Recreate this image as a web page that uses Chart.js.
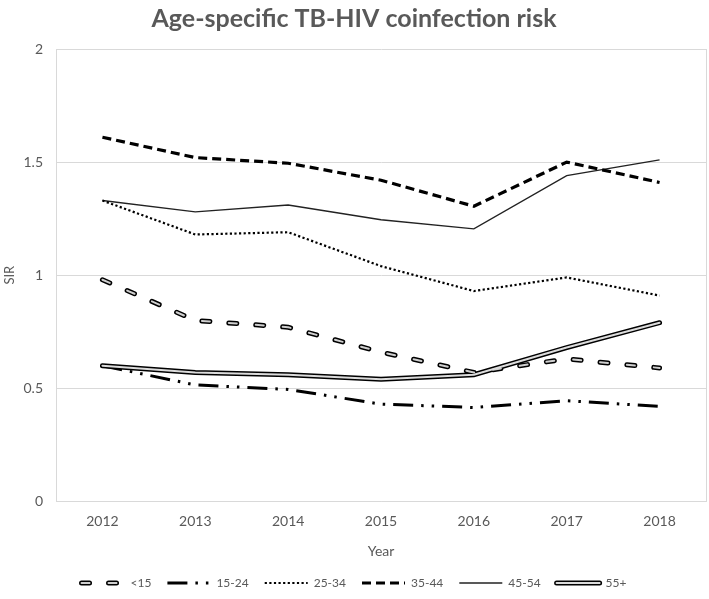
<!DOCTYPE html>
<html>
<head>
<meta charset="utf-8">
<script src="https://cdn.jsdelivr.net/npm/chart.js@4/dist/chart.umd.min.js"></script>
<style>
  html, body { margin: 0; padding: 0; background: #fff; }
  #wrap { width: 709px; height: 599px; }
</style>
</head>
<body>
<div id="wrap"><canvas id="grafico"></canvas></div>
<script>
// dados
var anos = ['2012', '2013', '2014', '2015', '2016', '2017', '2018']
var grupos = ['<15', '15-24', '25-34', '35-44', '45-54', '55+']
var menor15 = [0.98, 0.80, 0.77, 0.66, 0.57, 0.63, 0.59]
var de15a24 = [0.60, 0.515, 0.495, 0.43, 0.415, 0.445, 0.42]
var de25a34 = [1.33, 1.18, 1.19, 1.04, 0.93, 0.99, 0.91]
var de35a44 = [1.61, 1.52, 1.495, 1.42, 1.305, 1.50, 1.41]
var de45a54 = [1.33, 1.28, 1.31, 1.245, 1.205, 1.44, 1.51]
var mais55 = [0.60, 0.57, 0.56, 0.54, 0.56, 0.68, 0.79]
var ticksY = [0, 0.5, 1, 1.5, 2]

var fonte = 'Lato, "Open Sans", sans-serif'
var cinzaTexto = '#595959'
var cinzaGrade = '#d9d9d9'

// linhas duplas: desenha um traço interno claro por cima do traço preto
var linhaDupla = {
    id: 'linhaDupla',
    afterDatasetsDraw: function (chart) {
        var ctx = chart.ctx
        chart.data.datasets.forEach(function (ds, i) {
            if (!ds.corInterna) return
            var meta = chart.getDatasetMeta(i)
            ctx.save()
            ctx.beginPath()
            meta.data.forEach(function (p, j) {
                if (j == 0) ctx.moveTo(p.x, p.y)
                else ctx.lineTo(p.x, p.y)
            })
            ctx.lineWidth = ds.larguraInterna
            ctx.strokeStyle = ds.corInterna
            ctx.lineCap = ds.borderCapStyle || 'butt'
            ctx.lineJoin = 'round'
            ctx.setLineDash(ds.borderDash || [])
            ctx.stroke()
            ctx.restore()
        })
    },
    afterDraw: function (chart) {
        var ctx = chart.ctx
        var area = chart.chartArea
        // borda direita da área do gráfico
        ctx.save()
        ctx.strokeStyle = cinzaGrade
        ctx.lineWidth = 1
        ctx.beginPath()
        ctx.moveTo(area.right + 0.5, area.top)
        ctx.lineTo(area.right + 0.5, area.bottom)
        ctx.stroke()
        ctx.restore()

        var legenda = chart.legend
        var opts = legenda.options.labels
        var tamFonte = opts.font.size
        legenda.legendItems.forEach(function (item, k) {
            var ds = chart.data.datasets[item.datasetIndex]
            if (!ds.corInterna) return
            var caixa = legenda.legendHitBoxes[k]
            var yc = caixa.top + tamFonte / 2
            ctx.save()
            ctx.beginPath()
            ctx.moveTo(caixa.left, yc)
            ctx.lineTo(caixa.left + opts.pointStyleWidth, yc)
            ctx.lineWidth = ds.larguraInterna
            ctx.strokeStyle = ds.corInterna
            ctx.lineCap = ds.borderCapStyle || 'butt'
            ctx.setLineDash(ds.borderDash || [])
            ctx.stroke()
            ctx.restore()
        })
    }
}

function serie(nome, valores, estilo) {
    var ds = {
        label: nome,
        data: valores,
        borderColor: '#000',
        backgroundColor: '#000',
        fill: false,
        tension: 0,
        pointRadius: 0,
        pointHoverRadius: 0,
        pointStyle: 'line'
    }
    return Object.assign(ds, estilo)
}

var conjuntos = [
    serie(grupos[0], menor15, { borderWidth: 5, borderDash: [8, 19], borderCapStyle: 'round', corInterna: '#cfcfcf', larguraInterna: 2 }),
    serie(grupos[1], de15a24, { borderWidth: 3, borderDash: [20, 8, 2.5, 8, 2.5, 8] }),
    serie(grupos[2], de25a34, { borderWidth: 2.2, borderDash: [2.2, 2.4] }),
    serie(grupos[3], de35a44, { borderWidth: 3.2, borderDash: [9, 5] }),
    serie(grupos[4], de45a54, { borderWidth: 1.4, borderColor: '#222', backgroundColor: '#222' }),
    serie(grupos[5], mais55, { borderWidth: 5, borderCapStyle: 'round', corInterna: '#dcdcdc', larguraInterna: 2 })
]

var ctx = document.getElementById('grafico')
new Chart(ctx, {
    type: 'line',
    data: { labels: anos, datasets: conjuntos },
    plugins: [linhaDupla],
    options: {
        responsive: true,
        maintainAspectRatio: false,
        animation: false,
        layout: { padding: { left: 2, right: 3, top: 4, bottom: 0 } },
        plugins: {
            title: {
                display: true,
                text: 'Age-specific TB-HIV coinfection risk',
                color: cinzaTexto,
                font: { family: fonte, size: 25, weight: 'bold' },
                padding: { top: 0, bottom: 15 }
            },
            legend: {
                position: 'bottom',
                labels: {
                    usePointStyle: true,
                    pointStyleWidth: 43,
                    boxHeight: 12,
                    padding: 16,
                    color: cinzaTexto,
                    font: { family: fonte, size: 12 },
                    // o estilo de ponto não traz o tracejado da linha, então copia do dataset
                    generateLabels: function (chart) {
                        var itens = Chart.defaults.plugins.legend.labels.generateLabels(chart)
                        itens.forEach(function (it) {
                            var ds = chart.data.datasets[it.datasetIndex]
                            it.lineDash = ds.borderDash || []
                            it.lineWidth = ds.borderWidth
                            it.lineCap = ds.borderCapStyle || 'butt'
                            it.strokeStyle = ds.borderColor
                        })
                        return itens
                    }
                }
            },
            tooltip: { enabled: false }
        },
        scales: {
            x: {
                offset: true,
                grid: { display: false, drawTicks: false },
                border: { color: cinzaGrade, width: 1 },
                ticks: { color: cinzaTexto, font: { family: fonte, size: 14 }, padding: 12 },
                title: {
                    display: true,
                    text: 'Year',
                    color: cinzaTexto,
                    font: { family: fonte, size: 14 },
                    padding: { top: 1, bottom: 1 }
                }
            },
            y: {
                min: 0,
                max: 2,
                afterBuildTicks: function (escala) {
                    escala.ticks = ticksY.map(function (v) { return { value: v } })
                },
                afterFit: function (escala) {
                    escala.width = 54
                },
                grid: { color: cinzaGrade, drawTicks: false },
                border: { color: cinzaGrade, width: 1 },
                ticks: {
                    color: cinzaTexto,
                    font: { family: fonte, size: 14 },
                    padding: 13,
                    callback: function (v) { return String(v) }
                },
                title: {
                    display: true,
                    text: 'SIR',
                    color: cinzaTexto,
                    font: { family: fonte, size: 13 },
                    padding: { top: 0, bottom: 4 }
                }
            }
        }
    }
})
</script>
</body>
</html>
